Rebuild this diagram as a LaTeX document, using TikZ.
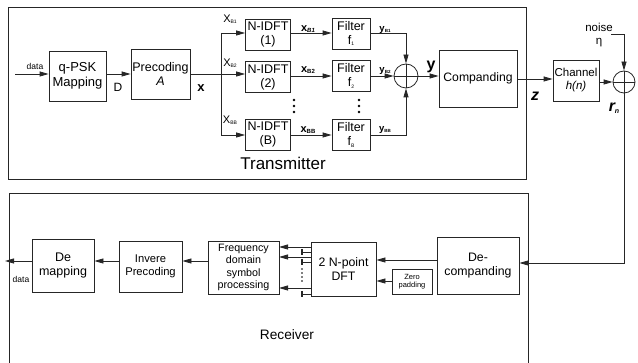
\documentclass[tikz,border=0pt]{standalone}
\usepackage{fontspec}
\setmainfont{Liberation Sans}
\usetikzlibrary{arrows.meta}
\begin{document}
\begin{tikzpicture}[x=1pt,y=-1pt,line width=0.8pt,draw=black!85,
  blk/.style={draw, inner sep=0pt, align=center, font=\fontsize{12.5}{14}\selectfont},
  arr/.style={-{Triangle[length=9pt,width=5pt]}},
  sumc/.style={draw, circle, minimum size=24pt, inner sep=0pt},
  lbl/.style={inner sep=0pt},
  tick/.style={line width=1.6pt}]
\useasboundingbox (0,0) rectangle (638,363);
% frames
\draw (8,7) rectangle (526,179);
\draw (9,370) -- (9,193) -- (528,193) -- (528,370);
\node[lbl, font=\fontsize{17}{19}\selectfont] (tx) at (283,163) {Transmitter};
\node[lbl, font=\fontsize{13.7}{15}\selectfont] (rx) at (287,335) {Receiver};
% transmitter blocks
\node[blk, minimum width=57pt, minimum height=50pt, font=\fontsize{13}{14.5}\selectfont] (qpsk) at (77.5,76) {q-PSK\\Mapping};
\node[blk, minimum width=59pt, minimum height=50pt] (prec) at (160.5,74) {Precoding\\\textit{A}};
\node[blk, minimum width=45pt, minimum height=31pt] (idft1) at (268,34.5) {N-IDFT\\(1)};
\node[blk, minimum width=45pt, minimum height=31pt] (idft2) at (268,77) {N-IDFT\\(2)};
\node[blk, minimum width=45pt, minimum height=31pt] (idftB) at (268,134.5) {N-IDFT\\(B)};
\node[blk, minimum width=38pt, minimum height=31pt] (filt1) at (351,33.5) {Filter\\f\raisebox{-1.5pt}{\fontsize{5}{5}\selectfont 1}};
\node[blk, minimum width=38pt, minimum height=31pt] (filt2) at (351,76) {Filter\\f\raisebox{-1.5pt}{\fontsize{5}{5}\selectfont 2}};
\node[blk, minimum width=38pt, minimum height=31pt] (filtB) at (351,135) {Filter\\f\raisebox{-1.5pt}{\fontsize{5}{5}\selectfont B}};
\node[sumc] (s1) at (406,76) {};
\draw (s1.north) -- (s1.south) (s1.west) -- (s1.east);
\node[blk, minimum width=78pt, minimum height=57pt, font=\fontsize{12.2}{14}\selectfont] (comp) at (478,78.5) {Companding};
\node[blk, minimum width=46pt, minimum height=41pt, font=\fontsize{11.5}{13}\selectfont] (chan) at (576,80.5) {Channel\\\textit{h(n)}};
\node[sumc, minimum size=22pt] (s2) at (624,82) {};
\draw (s2.north) -- (s2.south) (s2.west) -- (s2.east);
% transmitter connectors
\coordinate (din) at (15,74);
\draw[arr] (din) -- (din -| qpsk.west);
\node[lbl, font=\fontsize{8.5}{9}\selectfont] (dlab) at (35,66) {data};
\draw[arr] (qpsk.east |- prec.east) -- (prec.east -| prec.west);
\node[lbl, font=\fontsize{12}{13}\selectfont] (Dlab) at (118,87) {D};
\coordinate (busm) at (221,74);
\coordinate (bus1) at (221,33);
\coordinate (busB) at (221,135);
\draw (prec.east) -- (busm);
\draw (bus1) -- (busB);
\node[lbl, font=\fontsize{13}{14}\selectfont\bfseries] (xlab) at (201,88) {x};
\draw[arr] (bus1) -- (bus1 -| idft1.west);
\draw[arr] (busm) -- (busm -| idft2.west);
\draw[arr] (busB) -- (busB -| idftB.west);
\node[lbl, font=\fontsize{11}{11}\selectfont] (X1) at (230,19) {X\raisebox{-1.5pt}{\fontsize{5}{5}\selectfont B1}};
\node[lbl, font=\fontsize{11}{11}\selectfont] (X2) at (230,63) {X\raisebox{-1.5pt}{\fontsize{5}{5}\selectfont B2}};
\node[lbl, font=\fontsize{11}{11}\selectfont] (XB) at (230,120) {X\raisebox{-1.5pt}{\fontsize{5}{5}\selectfont BB}};
\coordinate (m1) at (291,33);
\coordinate (m2) at (291,76);
\coordinate (mB) at (291,135);
\draw[arr] (m1) -- (m1 -| filt1.west);
\draw[arr] (m2) -- (m2 -| filt2.west);
\draw[arr] (mB) -- (mB -| filtB.west);
\node[lbl, font=\fontsize{11}{12}\selectfont\bfseries] (x1) at (308,29) {x\raisebox{-1pt}{\fontsize{6}{6}\selectfont\itshape B1}};
\node[lbl, font=\fontsize{11}{12}\selectfont\bfseries] (x2) at (308,70) {x\raisebox{-1pt}{\fontsize{6}{6}\selectfont B2}};
\node[lbl, font=\fontsize{11}{12}\selectfont\bfseries] (xB) at (308,130) {x\raisebox{-1pt}{\fontsize{6}{6}\selectfont BB}};
\foreach \yy in {100,106,112} {
  \fill (294,\yy) circle (1.3pt);
  \fill (359,\yy) circle (1.3pt);
}
\draw[arr] (filt1.east |- m1) -| (s1.north);
\draw[arr] (filt2.east) -- (s1.west);
\draw[arr] (filtB.east |- mB) -| (s1.south);
\node[lbl, font=\fontsize{9.5}{10}\selectfont\bfseries] (y1) at (385,30) {y\raisebox{-1pt}{\fontsize{4.5}{5}\selectfont B1}};
\node[lbl, font=\fontsize{9.5}{10}\selectfont\bfseries] (y2) at (385,71) {y\raisebox{-1pt}{\fontsize{4.5}{5}\selectfont B2}};
\node[lbl, font=\fontsize{9.5}{10}\selectfont\bfseries] (yB) at (385,130) {y\raisebox{-1pt}{\fontsize{4.5}{5}\selectfont BB}};
\draw[arr] (s1.east) -- (s1.east -| comp.west);
\node[lbl, font=\fontsize{16}{17}\selectfont\bfseries] (ylab) at (431,67) {y};
\coordinate (c1) at (517,79);
\draw[arr] (c1) -- (c1 -| chan.west);
\node[lbl, font=\fontsize{16}{17}\selectfont\bfseries\itshape] (zlab) at (535,96) {z};
\draw[arr] (chan.east |- s2.west) -- (s2.west);
\node[lbl, font=\fontsize{11.5}{12}\selectfont] (noise) at (599,27) {noise};
\node[lbl, font=\fontsize{11.5}{12}\selectfont] (eta) at (599,43) {η};
\coordinate (n0) at (611,34);
\draw[arr] (n0) -| (s2.north);
\node[lbl, font=\fontsize{16}{17}\selectfont\bfseries\itshape] (rn) at (614,108) {r\raisebox{-2pt}{\fontsize{7}{7}\selectfont\itshape n}};
% receiver blocks
\node[blk, minimum width=82pt, minimum height=57pt, font=\fontsize{12.3}{14}\selectfont] (decomp) at (478,265.5) {De-\\companding};
\node[blk, minimum width=65pt, minimum height=54pt, font=\fontsize{12.3}{14}\selectfont] (dft) at (343.5,269) {2 N-point\\DFT};
\node[blk, minimum width=40pt, minimum height=25pt, font=\fontsize{7.5}{8.5}\selectfont] (zp) at (412,281.5) {Zero\\padding};
\node[blk, minimum width=71pt, minimum height=53pt, font=\fontsize{10.7}{12.5}\selectfont] (freq) at (243.5,267.5) {Frequency\\domain\\symbol\\processing};
\node[blk, minimum width=63pt, minimum height=51pt, font=\fontsize{11.2}{13}\selectfont] (inv) at (150.5,266.5) {Invere\\Precoding};
\node[blk, minimum width=62pt, minimum height=53pt, font=\fontsize{12.5}{14}\selectfont] (demap) at (63,265.5) {De\\mapping};
% receiver connectors
\coordinate (rt) at (624,263);
\draw[arr] (s2.south) -- (rt) -- (rt -| decomp.east);
\coordinate (d1) at (437,260);
\draw[arr] (d1) -- (d1 -| dft.east);
\coordinate (z1) at (392,281);
\draw[arr] (z1) -- (z1 -| dft.east);
\foreach \yy in {247,257,288} {
  \draw[arr] (311,\yy) -- (279,\yy);
}
\foreach \yy in {252,262,294} {
  \draw (302,\yy) -- (311,\yy);
  \draw[tick] (302,\yy-3) -- (302,\yy+3);
}
\foreach \yy in {269,273,277,281} {
  \fill (302,\yy) circle (0.9pt);
}
\coordinate (r1) at (208,261);
\draw[arr] (r1) -- (r1 -| inv.east);
\draw[arr] (r1 -| inv.west) -- (r1 -| demap.east);
\coordinate (dout) at (5,261);
\draw[arr] (r1 -| demap.west) -- (dout);
\node[lbl, font=\fontsize{8.5}{9}\selectfont] (dlab2) at (21,279) {data};
\end{tikzpicture}
\end{document}
